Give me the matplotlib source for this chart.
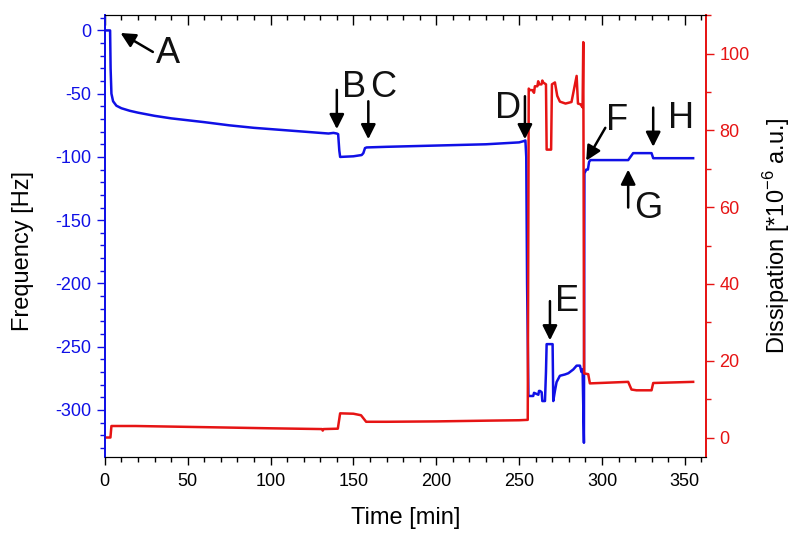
import matplotlib
matplotlib.use('Agg')
import matplotlib.pyplot as plt
from matplotlib.ticker import MultipleLocator

plt.rcParams['font.family'] = ['Liberation Sans', 'DejaVu Sans']
plt.rcParams['mathtext.fontset'] = 'custom'
plt.rcParams['mathtext.rm'] = 'Liberation Sans'
plt.rcParams['axes.unicode_minus'] = False

BLUE = '#1010e6'
RED = '#e61414'

# frequency trace (left axis)
t_freq = [0, 3.2, 3.5, 4.0, 5, 7, 10, 15, 20, 30, 40, 50, 60, 75, 90, 100, 115,
          125, 135, 138, 140, 140.8, 141.5, 142, 150, 155, 156, 157, 158, 170,
          200, 230, 250, 252.8, 253.8, 254.3, 254.8, 255.6, 258.5, 259, 261.6,
          262, 262.6, 263.6, 264, 265.6, 266.2, 266.6, 270.2, 270.6, 271.6,
          272.6, 274.6, 277.6, 279.7, 282.7, 284.7, 286.7, 287.6, 288.3, 289.1,
          289.4, 290.5, 291.5, 292.2, 293, 300, 310, 315.8, 318.8, 325, 329.9,
          330.9, 340, 355]
freq = [0, 0, -30, -50, -56, -59.5, -61.5, -63.5, -65, -67.5, -69.5, -71, -72.5,
        -75, -77, -78, -79.5, -80.5, -81.5, -81, -81.5, -82, -95, -100, -99.5,
        -98.5, -97, -93, -92.5, -92, -91, -90, -88.5, -87.5, -87, -100, -200,
        -289, -289, -286.5, -288, -285, -285, -286, -293, -293, -270, -248,
        -248, -293, -285, -278, -273, -272, -271, -268, -265, -265, -270, -268,
        -326, -113, -110, -110, -104, -102.5, -102.5, -102.5, -102.5, -97, -97,
        -97, -101, -101, -101]

# dissipation trace (right axis)
t_diss = [0, 3.4, 4.0, 18.5, 60, 100, 131, 131.5, 132, 140.6, 142, 150, 154.6,
          157.7, 170, 200, 231.9, 250, 255.2, 255.8, 256.5, 258, 259, 259.5,
          261, 261.5, 262, 263.5, 264, 264.5, 266.2, 266.6, 269.3, 269.8,
          271.6, 273, 274.6, 278, 281.6, 284.7, 285.5, 287, 288.3, 288.7,
          289.2, 291.7, 292.7, 315.8, 317.8, 320.8, 329.9, 330.9, 355]
diss = [0, 0, 3.0, 3.0, 2.7, 2.4, 2.2, 1.8, 2.2, 2.3, 6.3, 6.2, 5.8, 4.1, 4.1,
        4.2, 4.4, 4.5, 4.6, 90.9, 90.5, 90.5, 89.8, 91.5, 91.5, 92.8, 92, 92,
        93, 92.5, 92, 75, 75, 92, 92.5, 89, 87.5, 87, 87.4, 94.2, 87, 86.8, 86,
        103, 16.7, 16.5, 14.1, 14.5, 12.5, 12.3, 12.3, 14.2, 14.5]

# arrow annotations: (label, text x, text y, arrow tail, arrow tip) in frequency axis units
letters = ['A', 'B', 'C', 'D', 'E', 'F', 'G', 'H']
text_pos = [(38, -18), (150.5, -45), (168, -45), (243.5, -62), (279, -214),
            (309, -71), (328, -141), (348, -70)]
arrow_tail = [(29, -17), (140, -47), (159, -56), (253.5, -52), (268.6, -214),
              (302, -77), (315.8, -140), (330.9, -61)]
arrow_tip = [(9.5, -2), (140, -78), (159, -86), (253.5, -86), (268.6, -245),
             (290.5, -103), (315.8, -110), (330.9, -92)]

fig = plt.figure(figsize=(8, 5.45), dpi=100)
ax1 = fig.add_axes([0.131, 0.162, 0.752, 0.81])
ax2 = ax1.twinx()

ax1.plot(t_freq, freq, color=BLUE, lw=1.8)
ax2.plot(t_diss, diss, color=RED, lw=1.8)

ax1.set_xlim(0, 363)
ax1.set_ylim(-337, 12)
ax2.set_ylim(-5, 110)

ax1.xaxis.set_major_locator(MultipleLocator(50))
ax1.xaxis.set_minor_locator(MultipleLocator(10))
ax1.yaxis.set_major_locator(MultipleLocator(50))
ax1.yaxis.set_minor_locator(MultipleLocator(10))
ax2.yaxis.set_major_locator(MultipleLocator(20))
ax2.yaxis.set_minor_locator(MultipleLocator(10))

ax1.tick_params(axis='x', which='both', direction='out', top=False, labelsize=13, pad=6)
ax1.tick_params(axis='x', which='major', length=6, width=1)
ax1.tick_params(axis='x', which='minor', length=3.5, width=1)
ax1.tick_params(axis='y', which='both', direction='out', colors=BLUE, labelsize=13)
ax1.tick_params(axis='y', which='major', length=6, width=1)
ax1.tick_params(axis='y', which='minor', length=3.5, width=1)
ax2.tick_params(axis='y', which='both', direction='out', colors=RED, labelsize=13)
ax2.tick_params(axis='y', which='major', length=6, width=1)
ax2.tick_params(axis='y', which='minor', length=3.5, width=1)

# top axis with inward ticks, no labels
top = ax1.secondary_xaxis('top')
top.xaxis.set_major_locator(MultipleLocator(50))
top.xaxis.set_minor_locator(MultipleLocator(10))
top.tick_params(axis='x', which='both', direction='in', labeltop=False)
top.tick_params(axis='x', which='major', length=7, width=1)
top.tick_params(axis='x', which='minor', length=3.5, width=1)

for a in (ax1, ax2):
    a.spines['left'].set_color(BLUE)
    a.spines['right'].set_color(RED)
    a.spines['left'].set_linewidth(1.3)
    a.spines['right'].set_linewidth(1.3)
top.spines['top'].set_visible(False)

ax1.set_xlabel('Time [min]', fontsize=17, labelpad=12)
ax1.set_ylabel('Frequency [Hz]', fontsize=17)
ax1.yaxis.set_label_coords(-0.117, 0.465)
ax2.set_ylabel(r'Dissipation [*10$^{-6}$ a.u.]', fontsize=17, labelpad=8)

for lab, tp, tail, tip in zip(letters, text_pos, arrow_tail, arrow_tip):
    ax2.annotate('', xy=tip, xytext=tail, xycoords=ax1.transData,
                 textcoords=ax1.transData,
                 arrowprops=dict(arrowstyle='-|>', color='black', lw=1.8,
                                 mutation_scale=22, shrinkA=0, shrinkB=0))
    ax2.text(tp[0], tp[1], lab, transform=ax1.transData, fontsize=26,
             ha='center', va='center', color='#111111')

fig.savefig('out.png', dpi=100)
